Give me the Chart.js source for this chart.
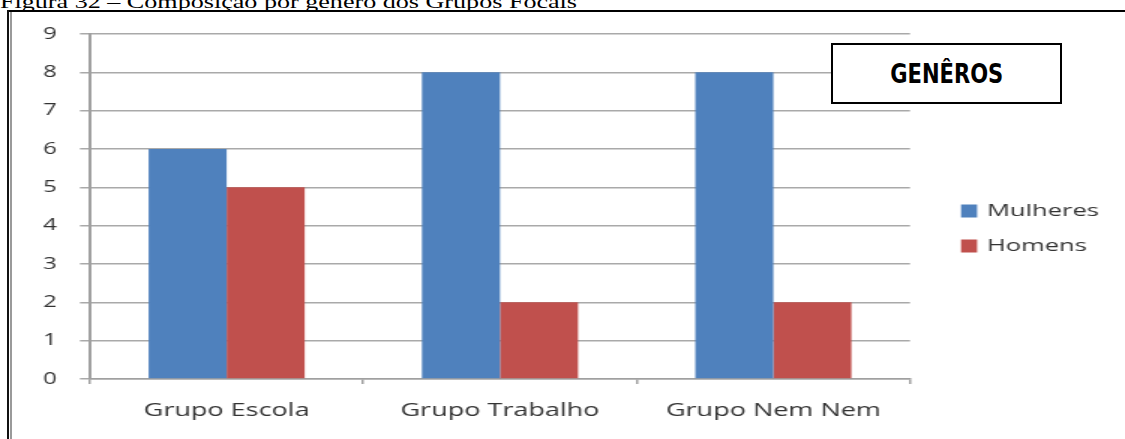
<!DOCTYPE html>
<html lang="pt-BR">
<head>
<meta charset="utf-8">
<script src="https://cdn.jsdelivr.net/npm/chart.js@4.4.1/dist/chart.umd.min.js"></script>
<style>
  html, body { margin: 0; padding: 0; background: #fff; width: 1125px; height: 439px; overflow: hidden; position: relative; }
  #caption { position: absolute; left: 0; top: -7px; font: 18px/18px "Liberation Serif", "Times New Roman", serif; white-space: nowrap; color: #000; transform: scaleX(1.45); transform-origin: 0 0; }
  .rule { position: absolute; }
  #frameTop { left: 7px; top: 10px; width: 1118px; height: 2px; background: #000; }
  #frameLeft { left: 7px; top: 10px; width: 2px; height: 429px; background: #111; }
  #frameLeft2 { left: 10px; top: 12px; width: 2px; height: 427px; background: #9a9a9a; }
  #wrap { position: absolute; left: 0; top: 0; width: 750px; height: 439px; transform: scaleX(1.5); transform-origin: 0 0; }
  #chart { display: block; }
  #title { position: absolute; left: 831px; top: 43px; width: 231px; height: 61px; box-sizing: border-box; border: 2px solid #000; background: #fff;
           font: bold 26px "Liberation Sans Narrow", "DejaVu Sans Condensed", "Liberation Sans", sans-serif; color: #000;
           display: flex; align-items: center; justify-content: center; }
  #title span { display: inline-block; transform: scaleX(0.9); }
</style>
</head>
<body>
<div id="caption">Figura 32 – Composição por gênero dos Grupos Focais</div>
<div class="rule" id="frameTop"></div>
<div class="rule" id="frameLeft"></div>
<div class="rule" id="frameLeft2"></div>
<div id="wrap"><canvas id="chart" width="750" height="439"></canvas></div>
<div id="title"><span>GENÊROS</span></div>
<script>
// Focus groups and their composition by gender
const categories = ['Grupo Escola', 'Grupo Trabalho', 'Grupo Nem Nem'];
const mulheres = [6, 8, 8];
const homens = [5, 2, 2];
const seriesNames = ['Mulheres', 'Homens'];
const seriesColors = ['#4F81BD', '#C0504D'];
const yMin = 0, yMax = 9, yStep = 1;

// Legend to the right of the plot, one row per dataset
const sideLegend = {
  id: 'sideLegend',
  afterDraw(chart) {
    const ctx = chart.ctx;
    const rows = [211, 246];
    ctx.save();
    chart.data.datasets.forEach((ds, i) => {
      ctx.fillStyle = ds.backgroundColor;
      ctx.fillRect(640.7, rows[i] - 6.5, 10.7, 13);
      ctx.fillStyle = '#333';
      ctx.font = '17px "Open Sans"';
      ctx.textBaseline = 'middle';
      ctx.textAlign = 'left';
      ctx.fillText(ds.label, 658, rows[i] + 0.5);
    });
    ctx.restore();
  }
};

new Chart(document.getElementById('chart'), {
  type: 'bar',
  data: {
    labels: categories,
    datasets: [
      { label: seriesNames[0], data: mulheres, backgroundColor: seriesColors[0] },
      { label: seriesNames[1], data: homens, backgroundColor: seriesColors[1] }
    ]
  },
  options: {
    responsive: false,
    animation: false,
    devicePixelRatio: 1,
    categoryPercentage: 0.571,
    barPercentage: 1,
    layout: { padding: { top: 34, right: 143.33, left: 0, bottom: 0 } },
    plugins: { legend: { display: false }, tooltip: { enabled: false } },
    scales: {
      x: {
        grid: { offset: true, drawOnChartArea: false, drawTicks: true, tickLength: 5, color: '#a0a0a0', lineWidth: 1.5 },
        border: { color: '#a0a0a0', width: 1.5 },
        ticks: { font: { family: 'Open Sans', size: 18 }, color: '#333', padding: 16 },
        afterFit(scale) { scale.height = 60; }
      },
      y: {
        min: yMin, max: yMax,
        grid: { color: '#a9a9a9', lineWidth: 1.5, tickLength: 6.7 },
        border: { color: '#a0a0a0', width: 2 },
        ticks: { stepSize: yStep, font: { family: 'Open Sans', size: 16 }, color: '#333', padding: 15.3 },
        afterFit(scale) { scale.width = 60; }
      }
    }
  },
  plugins: [sideLegend]
});
</script>
</body>
</html>
